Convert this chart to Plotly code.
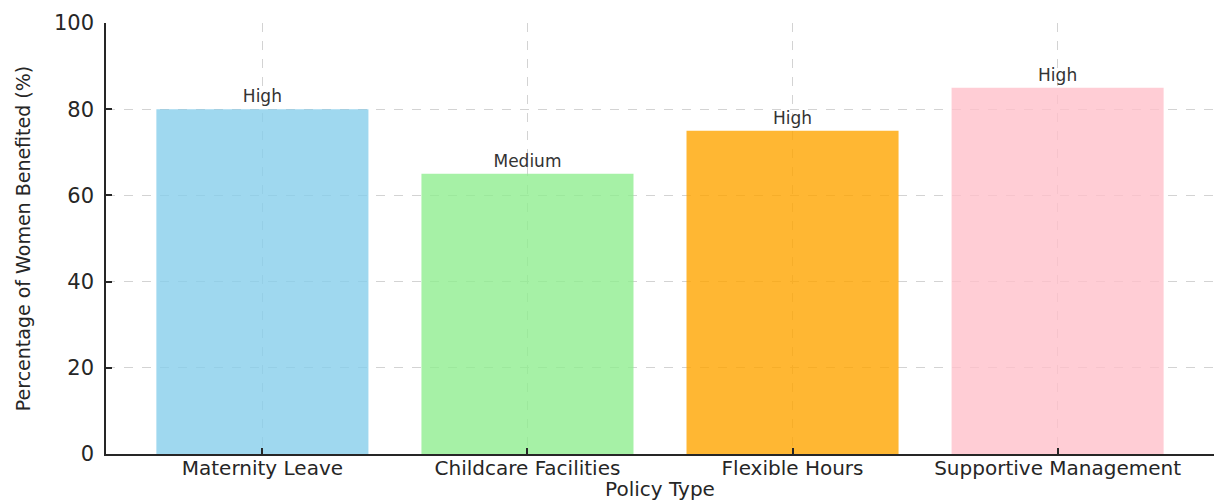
import plotly.graph_objects as go

categories = ["Maternity Leave", "Childcare Facilities", "Flexible Hours", "Supportive Management"]
values = [80, 65, 75, 85]
impact_labels = ["High", "Medium", "High", "High"]
colors = ["rgba(135,206,235,0.8)", "rgba(144,238,144,0.8)", "rgba(255,165,0,0.8)", "rgba(255,192,203,0.8)"]
y_ticks = [0, 20, 40, 60, 80, 100]

font_family = "DejaVu Sans"

fig = go.Figure()
fig.add_trace(go.Bar(
    x=list(range(len(categories))),
    y=values,
    width=0.8,
    marker=dict(color=colors, line=dict(width=0)),
    text=impact_labels,
    textposition="outside",
    textfont=dict(family=font_family, size=17, color="#333333"),
    cliponaxis=False,
    hoverinfo="skip",
))

fig.update_layout(
    width=1223, height=501,
    margin=dict(l=106, r=9, t=23, b=47),
    paper_bgcolor="white", plot_bgcolor="white",
    showlegend=False,
    bargap=0.2,
    font=dict(family=font_family, color="#262626"),
    xaxis=dict(
        range=[-0.59, 3.59],
        tickmode="array",
        tickvals=list(range(len(categories))),
        ticktext=categories,
        tickfont=dict(size=20, color="#262626"),
        ticks="inside", ticklen=6, tickcolor="#262626", tickwidth=1.5,
        showline=True, linecolor="#262626", linewidth=1.5,
        showgrid=True, gridcolor="#d3d3d3", griddash="dash", gridwidth=1,
        zeroline=False,
        ticklabelstandoff=-5,
        title=dict(text="Policy Type", font=dict(size=20, color="#262626"), standoff=0),
        automargin=False,
    ),
    yaxis=dict(
        range=[0, 100],
        tickmode="array",
        tickvals=y_ticks,
        tickfont=dict(size=21, color="#262626"),
        ticks="inside", ticklen=6, tickcolor="#262626", tickwidth=1.5,
        showline=True, linecolor="#262626", linewidth=1.5,
        showgrid=True, gridcolor="#d3d3d3", griddash="dash", gridwidth=1,
        zeroline=False,
        ticklabelstandoff=6,
        title=dict(text="Percentage of Women Benefited (%)", font=dict(size=19, color="#262626"), standoff=18),
        automargin=False,
    ),
)

fig.write_html("out.html")
